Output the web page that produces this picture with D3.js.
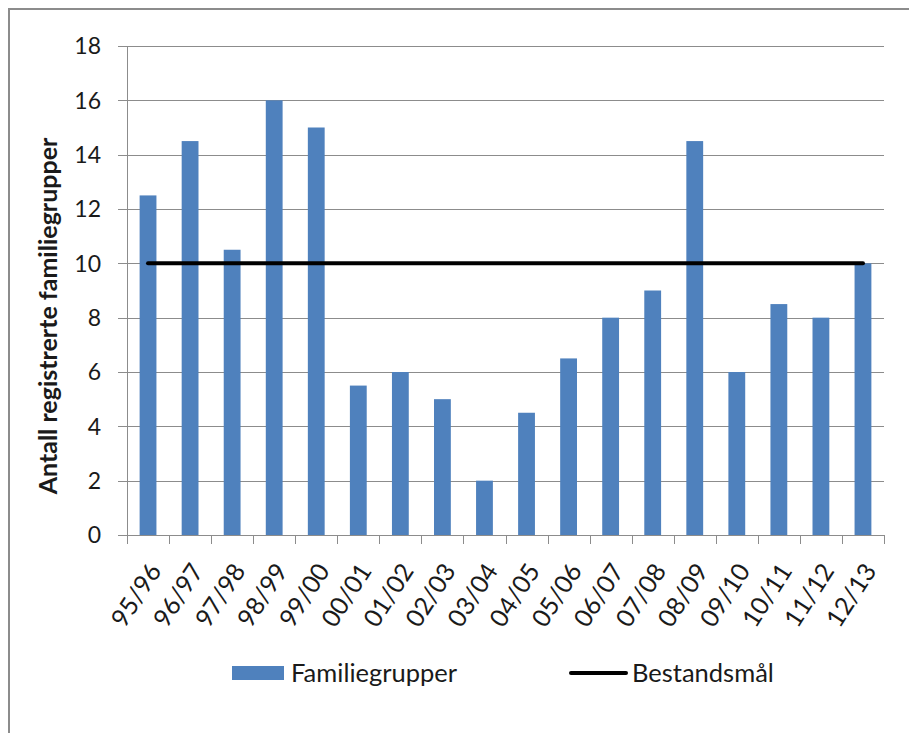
<!DOCTYPE html>
<head>
  <meta charset="utf-8">
  <title>Familiegrupper</title>
  <style>
    body { margin: 0; background: #fff; }
    text { font-family: Lato, "Noto Sans", sans-serif; fill: #1a1a1a; }
  </style>
</head>
<body>
  <script src="https://d3js.org/d3.v7.min.js"></script>
  <script>
  // season labels and registered family groups per season
  const seasons = ["95/96","96/97","97/98","98/99","99/00","00/01","01/02","02/03","03/04",
    "04/05","05/06","06/07","07/08","08/09","09/10","10/11","11/12","12/13"];
  const familiegrupper = [12.5, 14.5, 10.5, 16, 15, 5.5, 6, 5, 2, 4.5, 6.5, 8, 9, 14.5, 6, 8.5, 8, 10];
  const bestandsmal = seasons.map(() => 10);
  const yTicks = [0, 2, 4, 6, 8, 10, 12, 14, 16, 18];

  const W = 909, H = 733;
  const plotLeft = 127, plotRight = 884, plotTop = 46, plotBottom = 535;

  const svg = d3.select("body").append("svg")
    .attr("width", W)
    .attr("height", H);

  // outer frame (runs off the right and bottom edge)
  svg.append("path")
    .attr("d", `M9,${H + 5} V9 H${W + 5}`)
    .attr("fill", "none")
    .attr("stroke", "#8c8c8c")
    .attr("stroke-width", 2);

  const y = d3.scaleLinear().domain([0, 18]).range([plotBottom, plotTop]);
  const x = d3.scaleBand().domain(seasons).range([plotLeft, plotRight])
    .paddingInner(0.6).paddingOuter(0.3);
  const xb = d3.scaleBand().domain(seasons).range([plotLeft, plotRight]).padding(0);

  // gridlines + y tick labels
  const grid = svg.append("g");
  grid.selectAll("line")
    .data(yTicks)
    .enter()
    .append("line")
    .attr("x1", plotLeft - 9)
    .attr("x2", plotRight)
    .attr("y1", d => Math.round(y(d)) + 0.5)
    .attr("y2", d => Math.round(y(d)) + 0.5)
    .attr("stroke", "#8c8c8c")
    .attr("stroke-width", 1);

  grid.selectAll("text")
    .data(yTicks)
    .enter()
    .append("text")
    .attr("x", 101)
    .attr("y", d => y(d))
    .attr("dy", "0.36em")
    .attr("text-anchor", "end")
    .style("font-size", "23px")
    .text(d => d);

  // y axis line
  svg.append("line")
    .attr("x1", plotLeft + 0.5).attr("x2", plotLeft + 0.5)
    .attr("y1", plotTop).attr("y2", plotBottom + 9)
    .attr("stroke", "#8c8c8c");

  // x tick marks at band boundaries
  const bounds = seasons.map(s => xb(s)).concat([plotRight]);
  svg.append("g").selectAll("line")
    .data(bounds)
    .enter()
    .append("line")
    .attr("x1", d => Math.round(d) + 0.5)
    .attr("x2", d => Math.round(d) + 0.5)
    .attr("y1", plotBottom)
    .attr("y2", plotBottom + 9)
    .attr("stroke", "#8c8c8c");

  // bars
  svg.append("g").selectAll("rect")
    .data(familiegrupper)
    .enter()
    .append("rect")
    .attr("x", (d, i) => x(seasons[i]))
    .attr("y", d => y(d))
    .attr("width", x.bandwidth())
    .attr("height", d => y(0) - y(d))
    .attr("fill", "#4f81bd");

  // target line
  const line = d3.line()
    .x((d, i) => x(seasons[i]) + x.bandwidth() / 2)
    .y(d => y(d));
  svg.append("path")
    .datum(bestandsmal)
    .attr("d", line)
    .attr("fill", "none")
    .attr("stroke", "#000")
    .attr("stroke-width", 4)
    .attr("stroke-linecap", "round");

  // x labels, rotated
  svg.append("g").selectAll("text")
    .data(seasons)
    .enter()
    .append("text")
    .attr("transform", d => `translate(${x(d) + x.bandwidth() / 2 + 7},${plotBottom + 31}) rotate(-57)`)
    .attr("text-anchor", "end")
    .attr("dy", "0.35em")
    .style("font-size", "25px")
    .text(d => d);

  // y axis title
  svg.append("text")
    .attr("transform", `translate(57,316) rotate(-90)`)
    .attr("text-anchor", "middle")
    .style("font-size", "25px")
    .style("font-weight", "bold")
    .text("Antall registrerte familiegrupper");

  // legend
  const lg = svg.append("g");
  lg.append("rect")
    .attr("x", 232).attr("y", 666)
    .attr("width", 52).attr("height", 14)
    .attr("fill", "#4f81bd");
  lg.append("text")
    .attr("x", 291).attr("y", 673)
    .attr("dy", "0.36em")
    .style("font-size", "25.5px")
    .text("Familiegrupper");
  lg.append("line")
    .attr("x1", 571).attr("x2", 626)
    .attr("y1", 673).attr("y2", 673)
    .attr("stroke", "#000")
    .attr("stroke-width", 4)
    .attr("stroke-linecap", "round");
  lg.append("text")
    .attr("x", 632).attr("y", 673)
    .attr("dy", "0.36em")
    .style("font-size", "25.5px")
    .text("Bestandsmål");
  </script>
</body>
</html>
